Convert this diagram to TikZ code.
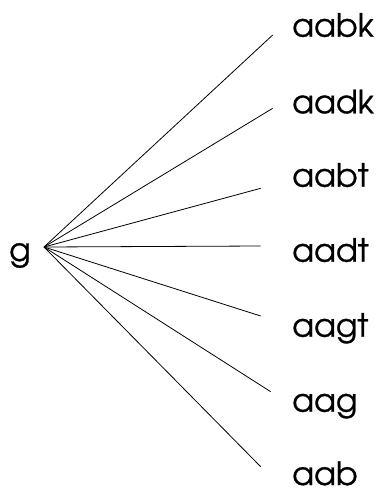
\documentclass[tikz,border=0pt]{standalone}
\usepackage{fontspec}
\newfontfamily\wordfont{TeX Gyre Adventor}[FakeBold=0.8]
\usetikzlibrary{calc}
\tikzset{
  word/.style = {anchor=base west, inner sep=0pt, font=\wordfont\fontsize{32}{40}\selectfont},
  edge/.style = {line width=0.8pt}
}

\begin{document}
\begin{tikzpicture}[x=1pt, y=-1pt]
  \useasboundingbox (0,0) rectangle (377,493);
  \node[word] (g) at (9,261) {g};
  \coordinate (hub) at ([xshift=35pt,yshift=14pt]g.base west);
  \foreach \w/\yb/\dx/\dy in {aabk/36.7/-19.3/1.7, aadk/113.3/-19.3/5,
      aabt/186.7/-31.3/-1.6, aadt/261.7/-31.3/15.7, aagt/336.7/-31.3/20.7,
      aag/411.7/-21.3/20, aab/485/-31.3/18.3}
  {
    \node[word] (\w) at (292,\yb) {\w};
    \draw[edge] (hub) -- ([xshift=\dx pt,yshift=\dy pt]\w.base west);
  }
\end{tikzpicture}
\end{document}
